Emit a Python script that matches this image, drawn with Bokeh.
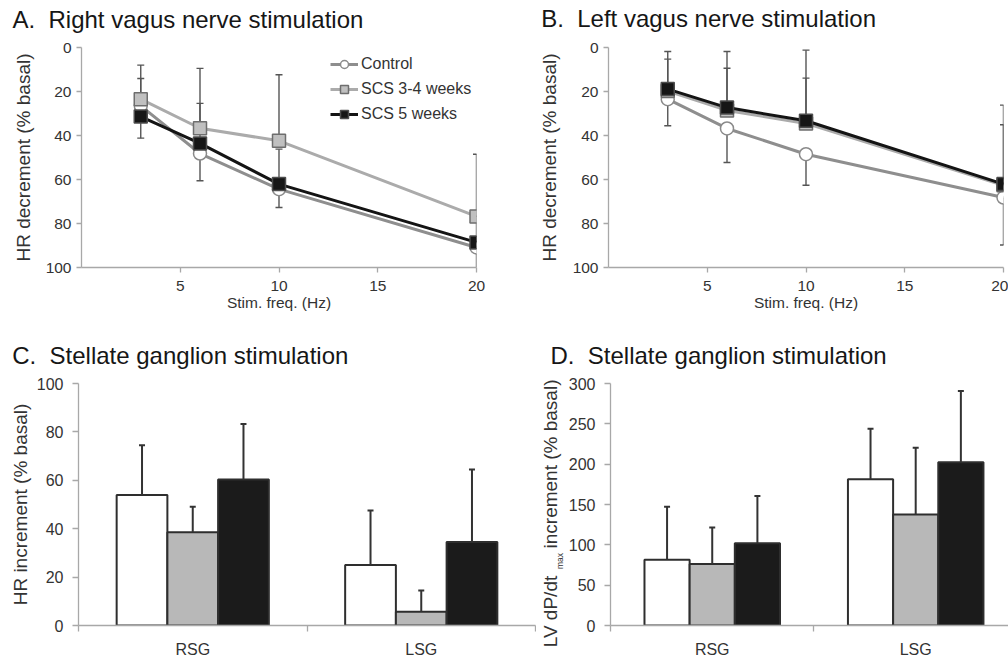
import math
from bokeh.plotting import figure
from bokeh.models import Range1d, FixedTicker, Legend, LegendItem
from bokeh.layouts import column, row
from bokeh.embed import file_html
from bokeh.resources import INLINE
from bokeh.core.properties import value

FONT = "Liberation Sans"

# ---------------- data ----------------
freq = [3, 6, 10, 20]
freq_ticks = [5, 10, 15, 20]
pct_ticks = [0, 20, 40, 60, 80, 100]
groups = ["Control", "SCS 3-4 weeks", "SCS 5 weeks"]

# A. Right vagus nerve stimulation (HR decrement, % basal)
a_control = [26.5, 48.2, 64.4, 90.9]
a_scs34 = [23.5, 36.7, 42.4, 76.8]
a_scs5 = [31.4, 43.6, 62.1, 88.6]
a_control_err = [14.7, 12.4, 8.3, 12.0]
a_scs34_err = [9.4, 11.3, 30.0, 28.3]
a_scs5_err = [23.4, 34.1, 15.9, 12.0]

# B. Left vagus nerve stimulation (HR decrement, % basal)
b_control = [23.5, 36.8, 48.5, 68.2]
b_scs34 = [19.8, 28.6, 34.5, 62.6]
b_scs5 = [18.9, 27.3, 33.3, 62.1]
b_control_err = [12.1, 15.5, 14.1, 21.6]
b_scs34_err = [14.5, 19.2, 20.6, 27.5]
b_scs5_err = [17.1, 25.5, 32.1, 35.9]

# C / D. Stellate ganglion stimulation
sites = ["RSG", "LSG"]
c_control = [53.9, 25.0]
c_scs34 = [38.5, 5.7]
c_scs5 = [60.3, 34.5]
c_control_err = [20.6, 22.5]
c_scs34_err = [10.6, 8.8]
c_scs5_err = [23.0, 30.0]
c_ticks = [0, 20, 40, 60, 80, 100]

d_control = [81.5, 181.2]
d_scs34 = [76.3, 137.5]
d_scs5 = [102.0, 202.4]
d_control_err = [65.8, 62.8]
d_scs34_err = [45.3, 82.9]
d_scs5_err = [58.4, 88.2]
d_ticks = [0, 50, 100, 150, 200, 250, 300]

titles = ["A.\u00a0\u00a0Right vagus nerve stimulation",
          "B.\u00a0\u00a0Left vagus nerve stimulation",
          "C.\u00a0\u00a0Stellate ganglion stimulation",
          "D.\u00a0\u00a0Stellate ganglion stimulation"]
d_ylabel = ["LV dP/dt", "max", "increment (% basal)"]

# ---------------- style ----------------
AXIS_C = "#a8a8a8"
TEXT_C = "#333333"
TITLE_C = "#161616"
ERR_C = "#555555"


def text_strip(w, h):
    p = figure(width=w, height=h, x_range=Range1d(0, w), y_range=Range1d(0, h),
               title=None, min_border=0, x_axis_location=None, y_axis_location=None,
               output_backend="svg", toolbar_location=None, frame_align=False)
    p.outline_line_color = None
    p.xgrid.grid_line_color = None
    p.ygrid.grid_line_color = None
    p.border_fill_color = "white"
    p.background_fill_color = "white"
    return p


def strip_title(p, text, x, y_mid_from_top):
    p.text(x=[x], y=[p.height - y_mid_from_top], text=[text], text_font=value(FONT),
           text_font_size="24px", text_color=TITLE_C, text_align="left",
           text_baseline="middle")


def base_fig(w, h, xr, yr, ml, mr, mt, mb):
    p = figure(width=w, height=h, x_range=xr, y_range=yr, title=None,
               min_border_left=ml, min_border_right=mr, min_border_top=mt,
               min_border_bottom=mb, output_backend="svg", toolbar_location=None)
    p.outline_line_color = None
    p.xgrid.grid_line_color = None
    p.ygrid.grid_line_color = None
    p.background_fill_color = "white"
    p.border_fill_color = "white"
    for ax in p.axis:
        ax.axis_line_color = AXIS_C
        ax.axis_line_width = 1.3
        ax.major_tick_line_color = AXIS_C
        ax.major_tick_line_width = 1.3
        ax.major_tick_in = 0
        ax.major_tick_out = 5
        ax.minor_tick_line_color = None
        ax.major_label_text_font = FONT
        ax.major_label_text_color = TEXT_C
        ax.axis_label_text_font = FONT
        ax.axis_label_text_font_style = "normal"
        ax.axis_label_text_color = TEXT_C
    return p


def line_panel(w, ml, mr, ctl, s34, s5, ctl_e, s34_e, s5_e, ylabel_standoff):
    p = base_fig(w, 286, Range1d(0, 20), Range1d(100, 0), ml, mr, 13, 53)
    p.xaxis.ticker = FixedTicker(ticks=freq_ticks)
    p.yaxis.ticker = FixedTicker(ticks=pct_ticks)
    for ax in p.axis:
        ax.major_label_text_font_size = "15.5px"
    p.yaxis.major_label_standoff = 5
    p.xaxis.major_label_standoff = 8
    p.xaxis.axis_label = "Stim. freq. (Hz)"
    p.xaxis.axis_label_text_font_size = "15.5px"
    p.xaxis.axis_label_standoff = 0
    p.yaxis.axis_label = "HR decrement (% basal)"
    p.yaxis.axis_label_text_font_size = "19px"
    p.yaxis.axis_label_standoff = ylabel_standoff

    # error bars: control drawn toward larger decrement, SCS groups toward smaller
    for vals, errs, sgn in [(ctl, ctl_e, 1), (s34, s34_e, -1), (s5, s5_e, -1)]:
        ends = [v + sgn * e for v, e in zip(vals, errs)]
        p.segment(x0=freq, y0=vals, x1=freq, y1=ends, line_color=ERR_C, line_width=1.4)
        p.scatter(x=freq, y=ends, marker="dash", size=7, line_color=ERR_C, line_width=1.4)

    l1 = p.line(freq, ctl, line_color="#8e8e8e", line_width=3)
    m1 = p.scatter(freq, ctl, marker="circle", size=13, fill_color="white",
                   line_color="#8a8a8a", line_width=1.5)
    l2 = p.line(freq, s34, line_color="#ababab", line_width=3)
    m2 = p.scatter(freq, s34, marker="square", size=13, fill_color="#c0c0c0",
                   line_color="#6e6e6e", line_width=1.5)
    l3 = p.line(freq, s5, line_color="#141414", line_width=3)
    m3 = p.scatter(freq, s5, marker="square", size=13, fill_color="#161616",
                   line_color="#4d4d4d", line_width=1.5)
    return p, [(l1, m1), (l2, m2), (l3, m3)]


# ---------- title strip (top) ----------
tA = text_strip(508, 34)
strip_title(tA, titles[0], 12, 19)
tB = text_strip(500, 34)
strip_title(tB, titles[1], 540.7 - 508, 18)

# ---------- panel A ----------
pa, rends = line_panel(508, 81, 32, a_control, a_scs34, a_scs5,
                       a_control_err, a_scs34_err, a_scs5_err, 9)
legend = Legend(items=[LegendItem(label=g, renderers=list(r)) for g, r in zip(groups, rends)],
                location=(249, 143), orientation="vertical", glyph_width=28, glyph_height=20,
                label_height=20, spacing=5, padding=0, margin=0, label_standoff=3,
                border_line_color=None, background_fill_alpha=0,
                label_text_font=FONT, label_text_font_size="16px", label_text_color=TEXT_C)
pa.add_layout(legend)

# ---------- panel B ----------
pb, _ = line_panel(500, 100, 5, b_control, b_scs34, b_scs5,
                   b_control_err, b_scs34_err, b_scs5_err, 10)

# ---------- title strip (bottom) ----------
tC = text_strip(536, 52)
strip_title(tC, titles[2], 11.7, 355 - 320)
tD = text_strip(472, 52)
strip_title(tD, titles[3], 550 - 536, 355 - 320)

# ---------- bar panels ----------
BW = 0.222
BAR_FILLS = ["white", "#b8b8b8", "#1b1b1b"]


def bar_panel(w, ml, mr, xend, ymax, yticks, series, errs):
    p = base_fig(w, 288, Range1d(0, xend), Range1d(0, ymax), ml, mr, 11, 32)
    p.yaxis.ticker = FixedTicker(ticks=yticks)
    p.yaxis.major_tick_out = 6
    p.yaxis.major_label_standoff = 9
    p.yaxis.major_label_text_font_size = "16px"
    n = len(sites)
    p.xaxis.ticker = FixedTicker(ticks=[k + 0.5 for k in range(n)],
                                 minor_ticks=[k for k in range(n + 1)])
    p.xaxis.major_label_overrides = {k + 0.5: s for k, s in enumerate(sites)}
    p.xaxis.major_tick_line_color = None
    p.xaxis.major_tick_out = 0
    p.xaxis.minor_tick_line_color = AXIS_C
    p.xaxis.minor_tick_line_width = 1.3
    p.xaxis.minor_tick_in = 0
    p.xaxis.minor_tick_out = 6
    p.xaxis.major_label_standoff = 9
    p.xaxis.major_label_text_font_size = "16px"
    for i, (vals, e, fill) in enumerate(zip(series, errs, BAR_FILLS)):
        xs = [k + 0.5 + (i - 1) * BW for k in range(n)]
        p.vbar(x=xs, top=vals, bottom=0, width=BW, fill_color=fill,
               line_color="#2e2e2e", line_width=2)
        ends = [v + d for v, d in zip(vals, e)]
        p.segment(x0=xs, y0=vals, x1=xs, y1=ends, line_color="#333333", line_width=2)
        p.scatter(x=xs, y=ends, marker="dash", size=6, line_color="#333333", line_width=2)
    return p


pc = bar_panel(536, 78, 1, 2, 100, c_ticks,
               [c_control, c_scs34, c_scs5], [c_control_err, c_scs34_err, c_scs5_err])
pc.yaxis.axis_label = "HR increment (% basal)"
pc.yaxis.axis_label_text_font_size = "19px"
pc.yaxis.axis_label_standoff = 3

D_PX = 205.0
pd = bar_panel(443, 42, 0, 401 / D_PX, 300, d_ticks,
               [d_control, d_scs34, d_scs5], [d_control_err, d_scs34_err, d_scs5_err])

# D y-axis label (with "max" subscript) in a narrow strip left of panel D
plab = text_strip(29, 288)
for txt, sx, sy, fs in [(d_ylabel[0], 550, 611, "19px"),
                        (d_ylabel[1], 559.5, 560.5, "8.5px"),
                        (d_ylabel[2], 550, 463.5, "19px")]:
    plab.text(x=[sx - 536], y=[660 - sy], text=[txt], angle=math.pi / 2,
              text_font=value(FONT), text_font_size=fs, text_color=TEXT_C,
              text_align="center", text_baseline="middle")

layout = column(row(tA, tB), row(pa, pb), row(tC, tD), row(pc, plab, pd))
open("out.html", "w").write(file_html(layout, INLINE))
